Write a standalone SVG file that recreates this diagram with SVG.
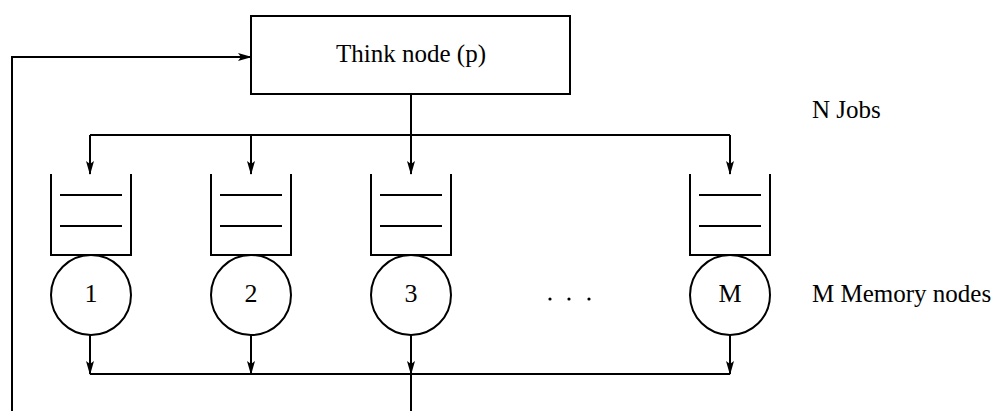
<svg xmlns="http://www.w3.org/2000/svg" width="1002" height="411" viewBox="0 0 1002 411">
  <defs>
    <marker id="arrow" viewBox="0 0 14 10" refX="13" refY="5" markerWidth="14" markerHeight="10" markerUnits="userSpaceOnUse" orient="auto">
      <path d="M0,1 L14,5 L0,9 L3,5 Z" fill="#000"/>
    </marker>
    <style>
      .ln { fill: none; stroke: #000; stroke-width: 2; }
      .arr { fill: none; stroke: #000; stroke-width: 2; marker-end: url(#arrow); }
      .box { fill: #fff; stroke: #000; stroke-width: 2; }
      .txt { font-family: "Liberation Serif", "Times New Roman", serif; fill: #000; }
      .big { font-size: 25px; }
      .num { font-size: 26px; text-anchor: middle; }
    </style>
  </defs>

  <!-- connectors -->
  <g id="connectors">
    <!-- feedback loop into the think node -->
    <path class="arr" d="M12,411 V57 H251"/>
    <!-- think node to job distribution bus -->
    <path class="arr" d="M411,94 V174"/>
    <path class="ln" d="M90,135 H730"/>
    <path class="arr" d="M90,135 V174"/>
    <path class="arr" d="M251,135 V174"/>
    <path class="arr" d="M730,135 V174"/>
    <!-- memory nodes to return bus -->
    <path class="arr" d="M90,335 V374"/>
    <path class="arr" d="M251,335 V374"/>
    <path class="arr" d="M411,335 V374"/>
    <path class="arr" d="M730,335 V374"/>
    <path class="ln" d="M90,374 H730"/>
    <path class="ln" d="M411,374 V411"/>
  </g>

  <!-- think node -->
  <g id="think">
    <rect class="box" x="251" y="16" width="319" height="78"/>
    <text class="txt big" x="411" y="62" text-anchor="middle">Think node (p)</text>
  </g>

  <!-- memory nodes: queue + server -->
  <g id="mem1">
    <path class="ln" d="M51,174 V255 H131 V174"/>
    <path class="ln" d="M60,195 H122 M60,226 H122"/>
    <circle class="box" cx="91" cy="295" r="40"/>
    <text class="txt num" x="91" y="302">1</text>
  </g>
  <g id="mem2">
    <path class="ln" d="M211,174 V255 H291 V174"/>
    <path class="ln" d="M220,195 H282 M220,226 H282"/>
    <circle class="box" cx="251" cy="295" r="40"/>
    <text class="txt num" x="251" y="302">2</text>
  </g>
  <g id="mem3">
    <path class="ln" d="M371,174 V255 H451 V174"/>
    <path class="ln" d="M380,195 H442 M380,226 H442"/>
    <circle class="box" cx="411" cy="295" r="40"/>
    <text class="txt num" x="411" y="302">3</text>
  </g>
  <g id="ellipsis">
    <circle cx="550" cy="299" r="1.6" fill="#000"/>
    <circle cx="569" cy="299" r="1.6" fill="#000"/>
    <circle cx="589" cy="299" r="1.6" fill="#000"/>
  </g>
  <g id="memM">
    <path class="ln" d="M690,174 V255 H770 V174"/>
    <path class="ln" d="M699,195 H761 M699,226 H761"/>
    <circle class="box" cx="730" cy="295" r="40"/>
    <text class="txt num" x="730" y="302">M</text>
  </g>

  <!-- side labels -->
  <g id="labels">
    <text class="txt big" x="812" y="118">N Jobs</text>
    <text class="txt big" x="812" y="302">M Memory nodes</text>
  </g>
</svg>
